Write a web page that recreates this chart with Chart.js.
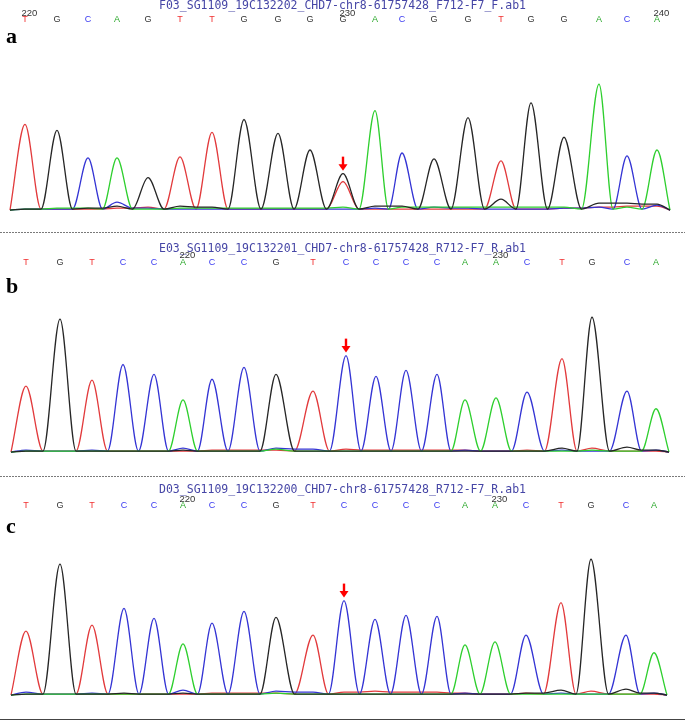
<!DOCTYPE html>
<html><head><meta charset="utf-8">
<script src="https://cdn.jsdelivr.net/npm/chart.js@4.4.1/dist/chart.umd.min.js"></script>
<style>
html,body{margin:0;padding:0;background:#fff;width:685px;height:721px;overflow:hidden;}
.panel{position:absolute;left:0;width:685px;}
canvas{display:block;}
.dash{position:absolute;left:0;width:685px;height:1px;background:repeating-linear-gradient(to right,#7a7a7a 0 2px,transparent 2px 3px);}
.solid{position:absolute;left:0;width:685px;height:1px;background:#444;}
</style></head><body>
<div class="panel" style="top:0;height:232px"><canvas id="ca" width="685" height="232"></canvas></div>
<div class="dash" style="top:232px"></div>
<div class="panel" style="top:234px;height:242px"><canvas id="cb" width="685" height="242"></canvas></div>
<div class="dash" style="top:476px"></div>
<div class="panel" style="top:477px;height:244px"><canvas id="cc" width="685" height="244"></canvas></div>
<div class="solid" style="top:719px"></div>
<script>
// ---------- Panel a ----------
const titleA = "F03_SG1109_19C132202_CHD7-chr8-61757428_F712-F7_F.ab1";
const basesA = ["T","G","C","A","G","T","T","G","G","G","G","A","C","G","G","T","G","G","A","C","A"];
const posA   = [25,57,88,117,148,180,212,244,278,310,343,375,402,434,468,501,531,564,599,627,657];
const gA = [1,81,2,4,33,4,3,92,78,61,37,4,4,52,94,11,109,74,7,7,6];
const aA = [1,2,2,53,1,2,2,2,2,2,3,101,3,3,3,3,3,3,128,3,61];
const cA = [1,1,53,8,2,1,1,1,1,1,1,2,58,3,2,1,1,2,3,55,5];
const tA = [87,1,1,2,3,54,79,1,1,1,29,1,1,1,1,50,1,2,3,4,4];
const numIdxA = [0,10,20];
const numLblA = ["220","230","240"];
const arrowIdxA = 10;

// ---------- Panel b ----------
const titleB = "E03_SG1109_19C132201_CHD7-chr8-61757428_R712-F7_R.ab1";
const basesB = ["T","G","T","C","C","A","C","C","G","T","C","C","C","C","A","A","C","T","G","C","A"];
const posB   = [26,60,92,123,154,183,212,244,276,313,346,376,406,437,465,496,527,562,592,627,656];
const gB = [1,135,1,1,1,2,1,1,79,1,1,1,1,1,1,1,1,4,137,5,2];
const aB = [1,1,1,1,1,53,1,1,3,1,1,1,1,1,53,55,1,1,2,1,44];
const cB = [2,1,2,89,79,4,74,86,4,3,98,77,83,79,2,1,61,2,1,62,2];
const tB = [67,1,73,1,1,1,2,2,2,62,3,2,2,2,2,1,2,95,4,1,1];
const numIdxB = [5,15];
const numLblB = ["220","230"];
const arrowIdxB = 10;

// ---------- Panel c ----------
const titleC = "D03_SG1109_19C132200_CHD7-chr8-61757428_R712-F7_R.ab1";
const basesC = ["T","G","T","C","C","A","C","C","G","T","C","C","C","C","A","A","C","T","G","C","A"];
const posC   = [26,60,92,124,154,183,212,244,276,313,344,375,406,437,465,495,526,561,591,626,654];
const gC = [1,133,1,2,1,2,1,1,79,1,1,1,1,1,1,1,2,5,138,6,2];
const aC = [1,1,1,1,1,52,1,1,2,1,1,1,1,1,51,54,1,1,1,1,43];
const cC = [3,1,2,88,78,5,73,85,4,3,96,77,81,80,2,1,61,2,1,61,2];
const tC = [65,1,71,1,1,1,2,2,2,61,3,4,3,3,2,1,2,94,4,1,1];
const numIdxC = [5,15];
const numLblC = ["220","230"];
const arrowIdxC = 10;

const baseColor = {T:"#f03030", G:"#333333", C:"#3a3af0", A:"#2aa82a"};
const traceColor = {G:"#262626", A:"#2ecf2e", C:"#3434d4", T:"#e23a3c"};

function valley(a, b) {
  const lo = Math.min(a, b);
  return Math.max(a, b) > 15 ? Math.min(lo, 1) : lo;
}
function trace(pos, h) {
  const pts = [{x: pos[0] - 15, y: valley(0, h[0])}];
  for (let i = 0; i < pos.length; i++) {
    pts.push({x: pos[i], y: h[i]});
    if (i < pos.length - 1) pts.push({x: (pos[i] + pos[i + 1]) / 2, y: valley(h[i], h[i + 1])});
  }
  pts.push({x: pos[pos.length - 1] + 13, y: valley(h[h.length - 1], 0)});
  return pts;
}
function ds(base, pos, h) {
  return {label: base, data: trace(pos, h), borderColor: traceColor[base], borderWidth: 1.3,
          pointRadius: 0, fill: false, cubicInterpolationMode: 'monotone'};
}

const annot = {
  id: 'annot',
  afterDraw(chart) {
    const P = chart.options.plugins.annot;
    const ctx = chart.ctx, xs = chart.scales.x, ys = chart.scales.y;
    ctx.save();
    ctx.fillStyle = '#000';
    ctx.font = 'bold 22px "Liberation Serif"';
    ctx.textBaseline = 'middle'; ctx.textAlign = 'left';
    ctx.fillText(P.label, 6, P.labelY);
    const letterY = chart.chartArea.top - 3 - 5.4;
    ctx.font = '9.5px "Liberation Sans"';
    ctx.fillStyle = '#333';
    P.numIdx.forEach((k, j) => {
      ctx.fillText(P.numLbl[j], xs.getPixelForValue(P.pos[k]) - 3.5, letterY - 7);
    });
    const k = P.arrowIdx;
    const top = Math.max(P.g[k], P.a[k], P.c[k], P.t[k]);
    const x = xs.getPixelForValue(P.pos[k]);
    const tip = ys.getPixelForValue(top) - 3;
    ctx.strokeStyle = '#ff0000'; ctx.fillStyle = '#ff0000';
    ctx.lineWidth = 2.4;
    ctx.beginPath(); ctx.moveTo(x, tip - 14); ctx.lineTo(x, tip - 5); ctx.stroke();
    ctx.beginPath(); ctx.moveTo(x - 4.5, tip - 6.5); ctx.lineTo(x + 4.5, tip - 6.5); ctx.lineTo(x, tip); ctx.closePath(); ctx.fill();
    ctx.restore();
  }
};

function makeChart(id, P) {
  return new Chart(document.getElementById(id), {
    type: 'line',
    data: {datasets: [ds('G', P.pos, P.g), ds('A', P.pos, P.a), ds('C', P.pos, P.c), ds('T', P.pos, P.t)]},
    options: {
      responsive: false, animation: false, devicePixelRatio: 1,
      layout: {padding: {top: 0, left: 0, right: 0, bottom: P.padBottom}},
      plugins: {
        legend: {display: false}, tooltip: {enabled: false},
        title: {display: true, text: P.title, color: '#4646a6',
                font: {family: 'DejaVu Sans Mono', size: 11.5, weight: 'normal', lineHeight: 1},
                padding: {top: P.titleTop, bottom: P.titleBottom}},
        annot: P
      },
      scales: {
        x: {type: 'linear', position: 'top', min: 0, max: 685,
            grid: {display: false, drawTicks: false}, border: {display: false},
            afterBuildTicks: s => { s.ticks = P.pos.map(v => ({value: v})); },
            ticks: {autoSkip: false, maxRotation: 0, padding: 3,
                    font: {family: 'Liberation Sans', size: 9, lineHeight: 1.2},
                    callback: (v, i) => P.bases[i],
                    color: c => baseColor[P.bases[c.index]]}},
        y: {display: false, min: -3, max: P.yMax}
      }
    },
    plugins: [annot]
  });
}

makeChart('ca', {title: titleA, bases: basesA, pos: posA, g: gA, a: aA, c: cA, t: tA,
  numIdx: numIdxA, numLbl: numLblA, arrowIdx: arrowIdxA, label: 'a', labelY: 37,
  titleTop: 0.1, titleBottom: 0, padBottom: 19, yMax: 184.6});
makeChart('cb', {title: titleB, bases: basesB, pos: posB, g: gB, a: aB, c: cB, t: tB,
  numIdx: numIdxB, numLbl: numLblB, arrowIdx: arrowIdxB, label: 'b', labelY: 53,
  titleTop: 8.8, titleBottom: 0, padBottom: 21, yMax: 183.9});
makeChart('cc', {title: titleC, bases: basesC, pos: posC, g: gC, a: aC, c: cC, t: tC,
  numIdx: numIdxC, numLbl: numLblC, arrowIdx: arrowIdxC, label: 'c', labelY: 50,
  titleTop: 7.7, titleBottom: 1.4, padBottom: 23, yMax: 183.6});
</script>
</body></html>
